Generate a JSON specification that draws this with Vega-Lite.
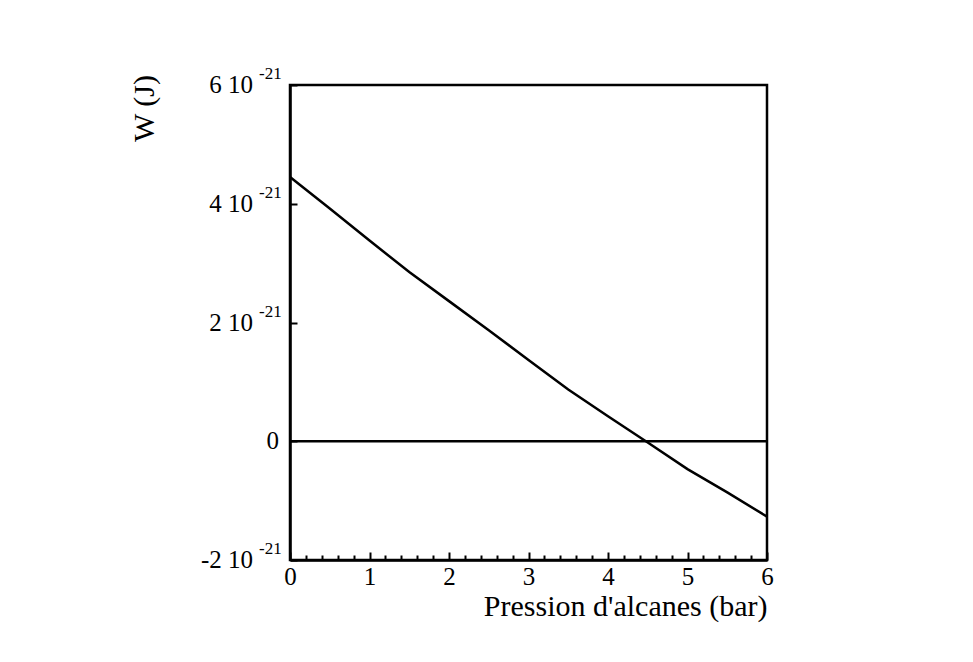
{
  "$schema": "https://vega.github.io/schema/vega-lite/v6.json",
  "width": 477,
  "height": 475,
  "autosize": {"type": "none"},
  "padding": {"left": 290, "top": 85, "right": 206, "bottom": 102},
  "background": "white",
  "config": {
    "view": {"stroke": "black", "strokeWidth": 2.5},
    "font": "Liberation Serif",
    "axis": {
      "domainColor": "black",
      "domainWidth": 2.5,
      "tickColor": "black",
      "tickWidth": 2,
      "grid": false,
      "labelFont": "Liberation Serif",
      "titleFont": "Liberation Serif",
      "labelColor": "black",
      "titleColor": "black",
      "titleFontWeight": "normal"
    }
  },
  "datasets": {
    "curve": [
      {"p": 0, "w": 4.45},
      {"p": 0.5, "w": 3.92},
      {"p": 1, "w": 3.38},
      {"p": 1.5, "w": 2.85},
      {"p": 2, "w": 2.36},
      {"p": 2.5, "w": 1.87},
      {"p": 3, "w": 1.37},
      {"p": 3.5, "w": 0.87},
      {"p": 4, "w": 0.42},
      {"p": 4.5, "w": -0.02},
      {"p": 5, "w": -0.47},
      {"p": 5.5, "w": -0.86},
      {"p": 6, "w": -1.27}
    ],
    "zero": [{"w": 0}],
    "ylab": [
      {"v": 6, "m": "6 10", "e": "-21"},
      {"v": 4, "m": "4 10", "e": "-21"},
      {"v": 2, "m": "2 10", "e": "-21"},
      {"v": 0, "m": "0", "e": ""},
      {"v": -2, "m": "-2 10", "e": "-21"}
    ]
  },
  "layer": [
    {
      "data": {"name": "curve"},
      "mark": {"type": "line", "color": "black", "strokeWidth": 2.5},
      "encoding": {
        "x": {
          "field": "p",
          "type": "quantitative",
          "scale": {"domain": [0, 6], "nice": false, "zero": false},
          "axis": {
            "values": [0, 0.2, 0.4, 0.6, 0.8, 1, 1.2, 1.4, 1.6, 1.8, 2, 2.2, 2.4, 2.6, 2.8, 3, 3.2, 3.4, 3.6, 3.8, 4, 4.2, 4.4, 4.6, 4.8, 5, 5.2, 5.4, 5.6, 5.8, 6],
            "tickCount": 200,
            "labelExpr": "abs(datum.value - round(datum.value)) < 0.001 ? format(round(datum.value), 'd') : ''",
            "tickSize": {"condition": {"test": "abs(datum.value - round(datum.value)) < 0.001", "value": -8}, "value": -5},
            "labelFontSize": 25,
            "labelPadding": 12,
            "labelFlush": false,
            "labelOverlap": false,
            "labelBound": false,
            "title": "Pression d'alcanes (bar)",
            "titleFontSize": 30,
            "titleAnchor": "end",
            "titleAlign": "right",
            "titleBaseline": "middle",
            "titleX": 477,
            "titleY": 46
          }
        },
        "y": {
          "field": "w",
          "type": "quantitative",
          "scale": {"domain": [-2, 6], "nice": false, "zero": false},
          "axis": {
            "values": [-2, 0, 2, 4, 6],
            "labels": false,
            "tickSize": -7,
            "title": "W (J)",
            "titleFontSize": 30,
            "titleAngle": -90,
            "titleAlign": "center",
            "titleBaseline": "middle",
            "titleX": -146,
            "titleY": 23
          }
        }
      }
    },
    {
      "data": {"name": "zero"},
      "mark": {"type": "rule", "color": "black", "strokeWidth": 2.5},
      "encoding": {"y": {"field": "w", "type": "quantitative"}}
    },
    {
      "data": {"name": "ylab"},
      "transform": [{"filter": "datum.e != ''"}],
      "mark": {"type": "text", "align": "right", "baseline": "middle", "dx": -37, "fontSize": 25, "font": "Liberation Serif", "color": "black"},
      "encoding": {
        "x": {"datum": 0, "type": "quantitative"},
        "y": {"field": "v", "type": "quantitative"},
        "text": {"field": "m"}
      }
    },
    {
      "data": {"name": "ylab"},
      "transform": [{"filter": "datum.e != ''"}],
      "mark": {"type": "text", "align": "left", "baseline": "middle", "dx": -31, "dy": -11, "fontSize": 17, "font": "Liberation Serif", "color": "black"},
      "encoding": {
        "x": {"datum": 0, "type": "quantitative"},
        "y": {"field": "v", "type": "quantitative"},
        "text": {"field": "e"}
      }
    },
    {
      "data": {"name": "ylab"},
      "transform": [{"filter": "datum.e == ''"}],
      "mark": {"type": "text", "align": "right", "baseline": "middle", "dx": -11, "fontSize": 25, "font": "Liberation Serif", "color": "black"},
      "encoding": {
        "x": {"datum": 0, "type": "quantitative"},
        "y": {"field": "v", "type": "quantitative"},
        "text": {"field": "m"}
      }
    }
  ]
}
